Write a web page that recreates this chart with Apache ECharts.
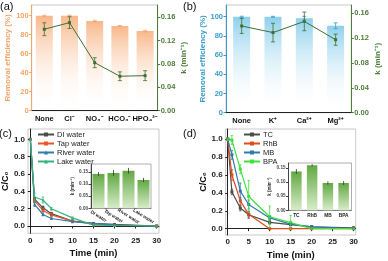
<!DOCTYPE html>
<html><head><meta charset="utf-8">
<script src="https://cdn.jsdelivr.net/npm/echarts@6/dist/echarts.min.js"></script>
<style>html,body{margin:0;padding:0;background:#fff}#c{width:388px;height:261px}</style>
</head><body><div id="c"></div>
<script>
// ---------- data ----------
const catsA = ['None', 'Cl⁻', 'NO₃⁻', 'HCO₃⁻', 'HPO₄²⁻'];
const effA = [99.6, 99.8, 94.2, 88.9, 83.6];
const effAErr = [0.6, 0.5, 0.8, 0.6, 0.8];
const kA = [0.1395, 0.1508, 0.0822, 0.0590, 0.0600];
const kAErr = [0.011, 0.010, 0.0085, 0.0075, 0.0085];

const catsB = ['None', 'K⁺', 'Ca²⁺', 'Mg²⁺'];
const effB = [99.9, 99.9, 98.4, 90.6];
const effBErr = [0.6, 0.5, 2.0, 3.0];
const kB = [0.1396, 0.129, 0.147, 0.1175];
const kBErr = [0.012, 0.015, 0.015, 0.009];

const timeMin = [0, 1, 3, 5, 10, 15, 20, 30];
const namesC = ['DI water', 'Tap water', 'River water', 'Lake water'];
const diWater = [1.0, 0.31, 0.21, 0.143, 0.057, 0.030, 0.018, 0.0];
const tapWater = [1.0, 0.29, 0.18, 0.128, 0.057, 0.023, 0.010, 0.0];
const riverWater = [1.0, 0.25, 0.133, 0.087, 0.050, 0.030, 0.010, 0.0];
const lakeWater = [1.0, 0.335, 0.30, 0.20, 0.094, 0.011, 0.006, 0.0];
const diErr = [0, 0.02, 0.02, 0.015, 0.008, 0.005, 0.004, 0.003];
const tapErr = [0, 0.02, 0.02, 0.02, 0.008, 0.005, 0.004, 0.003];
const riverErr = [0, 0.025, 0.015, 0.01, 0.008, 0.005, 0.004, 0.003];
const lakeErr = [0, 0.045, 0.035, 0.015, 0.01, 0.005, 0.004, 0.003];

const namesD = ['TC', 'RhB', 'MB', 'BPA'];
const tcData = [1.0, 0.41, 0.23, 0.155, 0.07, 0.045, 0.02, 0.01];
const rhbData = [1.0, 0.60, 0.31, 0.16, 0.0, 0.0, 0.0, 0.0];
const mbData = [1.0, 0.825, 0.42, 0.27, 0.12, 0.05, 0.02, 0.0];
const bpaData = [1.0, 0.99, 0.665, 0.36, 0.133, 0.067, 0.0, 0.0];
const tcErr = [0, 0.03, 0.03, 0.04, 0.02, 0.01, 0.01, 0.005];
const rhbErr = [0, 0.06, 0.04, 0.03, 0.01, 0.01, 0.01, 0.005];
const mbErr = [0, 0.05, 0.09, 0.05, 0.02, 0.01, 0.01, 0.005];
const bpaErr = [0, 0.05, 0.05, 0.18, 0.12, 0.08, 0.01, 0.005];

const insetCatsC = ['DI water', 'Tap water', 'River water', 'Lake water'];
const insetKC = [0.142, 0.146, 0.155, 0.117];
const insetKCErr = [0.008, 0.012, 0.012, 0.009];
const insetCatsD = ['TC', 'RhB', 'MB', 'BPA'];
const insetKD = [0.138, 0.160, 0.097, 0.097];
const insetKDErr = [0.009, 0.004, 0.006, 0.007];

const ticksEff = [0, 20, 40, 60, 80, 100];
const ticksK = [0, 0.04, 0.08, 0.12, 0.16];
const ticksC = [0, 0.2, 0.4, 0.6, 0.8, 1.0];
const ticksT = [0, 5, 10, 15, 20, 25, 30];
const ticksInset = [0, 0.05, 0.10, 0.15];

// ---------- styles ----------
const FONT = 'Liberation Sans, Arial, sans-serif';
const ORANGE = '#f4a468';
const GREEN = '#4d7d38';
const BLUE = '#3a9ccb';
const LINEG = '#3f6f33';

function grad(top, bottom) {
  return new echarts.graphic.LinearGradient(0, 0, 0, 1, [
    {offset: 0, color: top}, {offset: 1, color: bottom}]);
}
function errData(xs, ys, es) {
  return ys.map((v, i) => [xs[i], v - es[i], v + es[i]]);
}
function errSeries(xi, yi, data, color, cap, z) {
  return {
    type: 'custom', name: '_err', xAxisIndex: xi, yAxisIndex: yi, z: z || 5, silent: true, clip: false,
    data: data,
    renderItem: function (params, api) {
      const x = api.value(0), lo = api.value(1), hi = api.value(2);
      const p1 = api.coord([x, lo]), p2 = api.coord([x, hi]);
      const st = {stroke: color, lineWidth: 0.8};
      return {type: 'group', children: [
        {type: 'line', shape: {x1: p1[0], y1: p1[1], x2: p2[0], y2: p2[1]}, style: st},
        {type: 'line', shape: {x1: p1[0] - cap, y1: p1[1], x2: p1[0] + cap, y2: p1[1]}, style: st},
        {type: 'line', shape: {x1: p2[0] - cap, y1: p2[1], x2: p2[0] + cap, y2: p2[1]}, style: st}
      ]};
    }
  };
}
function valAxis(grid, min, max, ticks, color, fmt, fs, extra) {
  return Object.assign({
    type: 'value', gridIndex: grid, min: min, max: max,
    axisLine: {show: true, lineStyle: {color: color, width: 1}},
    axisTick: {show: true, length: 2.5, customValues: ticks, lineStyle: {color: color}},
    axisLabel: {customValues: ticks, color: color, fontSize: fs, fontWeight: 'bold', fontFamily: FONT, margin: 3,
      formatter: fmt},
    splitLine: {show: false}
  }, extra || {});
}
const idx = (arr) => arr.map((_, i) => i);

const chart = echarts.init(document.getElementById('c'), null, {renderer: 'canvas'});

const lineC = (name, data, color, sym) => ({
  type: 'line', name: name, xAxisIndex: 2, yAxisIndex: 4, data: data.map((v, i) => [timeMin[i], v]),
  lineStyle: {color: color, width: 1.2}, itemStyle: {color: color}, symbol: sym, symbolSize: 3, z: 4
});
const lineD = (name, data, color, sym) => ({
  type: 'line', name: name, xAxisIndex: 3, yAxisIndex: 5, data: data.map((v, i) => [timeMin[i], v]),
  lineStyle: {color: color, width: 1.2}, itemStyle: {color: color}, symbol: sym, symbolSize: 3, z: 4
});

const colC = ['#4d4d4d', '#e8562a', '#2f7cad', '#33b57c'];
const colD = ['#4d4d4d', '#e04a1f', '#2f7aa8', '#3ee03a'];

const option = {
  animation: false,
  textStyle: {fontFamily: FONT},
  grid: [
    {left: 31.7, top: 5, width: 126, height: 105.7, show: true, borderColor: '#bbb', borderWidth: 0.8, backgroundColor: 'transparent'},
    {left: 226, top: 5, width: 125.3, height: 107.7, show: true, borderColor: '#bbb', borderWidth: 0.8, backgroundColor: 'transparent'},
    {left: 27.7, top: 129, width: 131.3, height: 104.3, show: true, borderColor: '#bbb', borderWidth: 0.8, backgroundColor: 'transparent'},
    {left: 225.7, top: 129, width: 130, height: 106.7, show: true, borderColor: '#bbb', borderWidth: 0.8, backgroundColor: 'transparent'},
    {left: 91, top: 164, width: 60, height: 44.3, show: true, borderColor: '#999', borderWidth: 0.8, backgroundColor: '#fff', z: 10},
    {left: 288.5, top: 163, width: 63, height: 47.3, show: true, borderColor: '#999', borderWidth: 0.8, backgroundColor: '#fff', z: 10}
  ],
  xAxis: [
    {type: 'category', gridIndex: 0, data: catsA, axisLine: {lineStyle: {color: '#222'}}, axisTick: {show: false},
      axisLabel: {color: '#111', fontSize: 7.5, fontWeight: 'bold', fontFamily: FONT, margin: 4, interval: 0}},
    {type: 'category', gridIndex: 1, data: catsB, axisLine: {lineStyle: {color: '#222'}}, axisTick: {show: false},
      axisLabel: {color: '#111', fontSize: 7.5, fontWeight: 'bold', fontFamily: FONT, margin: 4, interval: 0}},
    valAxis(2, -0.55, 30.55, ticksT, '#222', v => v, 8, {name: 'Time (min)', nameLocation: 'middle', nameGap: 15,
      nameTextStyle: {fontSize: 9.5, fontWeight: 'bold', color: '#111', fontFamily: FONT}}),
    valAxis(3, -0.48, 30.5, ticksT, '#222', v => v, 8, {name: 'Time (min)', nameLocation: 'middle', nameGap: 15,
      nameTextStyle: {fontSize: 9.5, fontWeight: 'bold', color: '#111', fontFamily: FONT}}),
    {type: 'category', gridIndex: 4, data: insetCatsC, axisLine: {lineStyle: {color: '#555', width: 0.6}}, axisTick: {show: false}, z: 12,
      axisLabel: {color: '#222', fontSize: 4.6, fontFamily: FONT, fontWeight: 'bold', rotate: -32, align: 'center', verticalAlign: 'middle', margin: 8, interval: 0}},
    {type: 'category', gridIndex: 5, data: insetCatsD, axisLine: {lineStyle: {color: '#555', width: 0.6}}, axisTick: {show: false}, z: 12,
      axisLabel: {color: '#222', fontSize: 4.8, fontFamily: FONT, fontWeight: 'bold', margin: 2.5, interval: 0}}
  ],
  yAxis: [
    valAxis(0, 0, 111, ticksEff, ORANGE, v => v, 7.5, {name: 'Removal efficiency (%)', nameLocation: 'middle', nameGap: 18, nameRotate: 90,
      nameTextStyle: {fontSize: 8, fontWeight: 'bold', color: ORANGE, fontFamily: FONT}}),
    valAxis(0, 0, 0.181, ticksK, GREEN, v => v.toFixed(2), 7.5, {position: 'right', name: 'k (min⁻¹)', nameLocation: 'middle', nameGap: 22, nameRotate: 90,
      nameTextStyle: {fontSize: 8, fontWeight: 'bold', color: GREEN, fontFamily: FONT}}),
    valAxis(1, 0, 112.2, ticksEff, BLUE, v => v, 7.5, {name: 'Removal efficiency (%)', nameLocation: 'middle', nameGap: 18, nameRotate: 90,
      nameTextStyle: {fontSize: 8, fontWeight: 'bold', color: BLUE, fontFamily: FONT}}),
    valAxis(1, 0, 0.1734, ticksK, GREEN, v => v.toFixed(2), 7.5, {position: 'right', name: 'k (min⁻¹)', nameLocation: 'middle', nameGap: 22, nameRotate: 90,
      nameTextStyle: {fontSize: 8, fontWeight: 'bold', color: GREEN, fontFamily: FONT}}),
    valAxis(2, -0.084, 1.12, ticksC, '#222', v => v.toFixed(1), 8, {name: 'C/C₀', nameLocation: 'middle', nameGap: 17, nameRotate: 90,
      nameTextStyle: {fontSize: 9, fontWeight: 'bold', color: '#111', fontFamily: FONT}}),
    valAxis(3, -0.071, 1.114, ticksC, '#222', v => v.toFixed(1), 8, {name: 'C/C₀', nameLocation: 'middle', nameGap: 17, nameRotate: 90,
      nameTextStyle: {fontSize: 9, fontWeight: 'bold', color: '#111', fontFamily: FONT}}),
    valAxis(4, 0, 0.183, ticksInset, '#444', v => v.toFixed(2), 4.6, {z: 12, name: 'k (min⁻¹)', nameLocation: 'middle', nameGap: 12, nameRotate: 90,
      nameTextStyle: {fontSize: 4.5, fontWeight: 'bold', color: '#333', fontFamily: FONT}}),
    valAxis(5, 0, 0.168, ticksInset, '#444', v => v.toFixed(2), 4.6, {z: 12, name: 'k (min⁻¹)', nameLocation: 'middle', nameGap: 12, nameRotate: 90,
      nameTextStyle: {fontSize: 4.5, fontWeight: 'bold', color: '#333', fontFamily: FONT}})
  ],
  legend: [
    {left: 37, top: 130, padding: 0, orient: 'vertical', itemWidth: 16, itemHeight: 5, itemGap: 0, data: namesC,
      textStyle: {fontSize: 7.5, color: '#222', fontFamily: FONT, lineHeight: 9, padding: [0, 0, 0, -2]}},
    {left: 243, top: 130, padding: 0, orient: 'vertical', itemWidth: 16, itemHeight: 5, itemGap: 0, data: namesD,
      textStyle: {fontSize: 7.5, color: '#222', fontFamily: FONT, lineHeight: 9, padding: [0, 0, 0, -2]}}
  ],
  graphic: [
    {type: 'text', left: 0, top: 1, style: {text: '(a)', fontSize: 11, fill: '#111', fontFamily: FONT}},
    {type: 'text', left: 183, top: 1, style: {text: '(b)', fontSize: 11, fill: '#111', fontFamily: FONT}},
    {type: 'text', left: -1, top: 128, style: {text: '(c)', fontSize: 11, fill: '#111', fontFamily: FONT}},
    {type: 'text', left: 183, top: 128, style: {text: '(d)', fontSize: 11, fill: '#111', fontFamily: FONT}}
  ],
  series: [
    {type: 'bar', name: 'effA', xAxisIndex: 0, yAxisIndex: 0, data: effA, barWidth: 17,
      itemStyle: {color: grad('#f8b88a', 'rgba(255,255,255,0)')}},
    errSeries(0, 0, errData(idx(effA), effA, effAErr), ORANGE, 2),
    {type: 'line', name: 'kA', xAxisIndex: 0, yAxisIndex: 1, data: kA, symbol: 'rect', symbolSize: 3,
      lineStyle: {color: LINEG, width: 1}, itemStyle: {color: LINEG}, z: 4},
    errSeries(0, 1, errData(idx(kA), kA, kAErr), LINEG, 2),

    {type: 'bar', name: 'effB', xAxisIndex: 1, yAxisIndex: 2, data: effB, barWidth: 17,
      itemStyle: {color: grad('#8dd0ec', 'rgba(255,255,255,0)')}},
    errSeries(1, 2, errData(idx(effB), effB, effBErr), BLUE, 2),
    {type: 'line', name: 'kB', xAxisIndex: 1, yAxisIndex: 3, data: kB, symbol: 'rect', symbolSize: 3,
      lineStyle: {color: LINEG, width: 1}, itemStyle: {color: LINEG}, z: 4},
    errSeries(1, 3, errData(idx(kB), kB, kBErr), LINEG, 2),

    lineC(namesC[0], diWater, colC[0], 'rect'),
    lineC(namesC[1], tapWater, colC[1], 'rect'),
    lineC(namesC[2], riverWater, colC[2], 'triangle'),
    lineC(namesC[3], lakeWater, colC[3], 'triangle'),
    errSeries(2, 4, errData(timeMin, diWater, diErr), colC[0], 1.2),
    errSeries(2, 4, errData(timeMin, tapWater, tapErr), colC[1], 1.2),
    errSeries(2, 4, errData(timeMin, riverWater, riverErr), colC[2], 1.2),
    errSeries(2, 4, errData(timeMin, lakeWater, lakeErr), colC[3], 1.2),

    lineD(namesD[0], tcData, colD[0], 'rect'),
    lineD(namesD[1], rhbData, colD[1], 'rect'),
    lineD(namesD[2], mbData, colD[2], 'rect'),
    lineD(namesD[3], bpaData, colD[3], 'rect'),
    errSeries(3, 5, errData(timeMin, tcData, tcErr), colD[0], 1.2),
    errSeries(3, 5, errData(timeMin, rhbData, rhbErr), colD[1], 1.2),
    errSeries(3, 5, errData(timeMin, mbData, mbErr), colD[2], 1.2),
    errSeries(3, 5, errData(timeMin, bpaData, bpaErr), colD[3], 1.2),

    {type: 'bar', name: 'insetC', xAxisIndex: 4, yAxisIndex: 6, data: insetKC, barWidth: 12, z: 12,
      itemStyle: {color: grad('#62a843', '#d8ecc9')}},
    errSeries(4, 6, errData(idx(insetKC), insetKC, insetKCErr), '#333', 0, 13),
    {type: 'bar', name: 'insetD', xAxisIndex: 5, yAxisIndex: 7, data: insetKD, barWidth: 10.5, z: 12,
      itemStyle: {color: grad('#62a843', '#d8ecc9')}},
    errSeries(5, 7, errData(idx(insetKD), insetKD, insetKDErr), '#333', 0, 13)
  ]
};
chart.setOption(option);
</script>
</body></html>
